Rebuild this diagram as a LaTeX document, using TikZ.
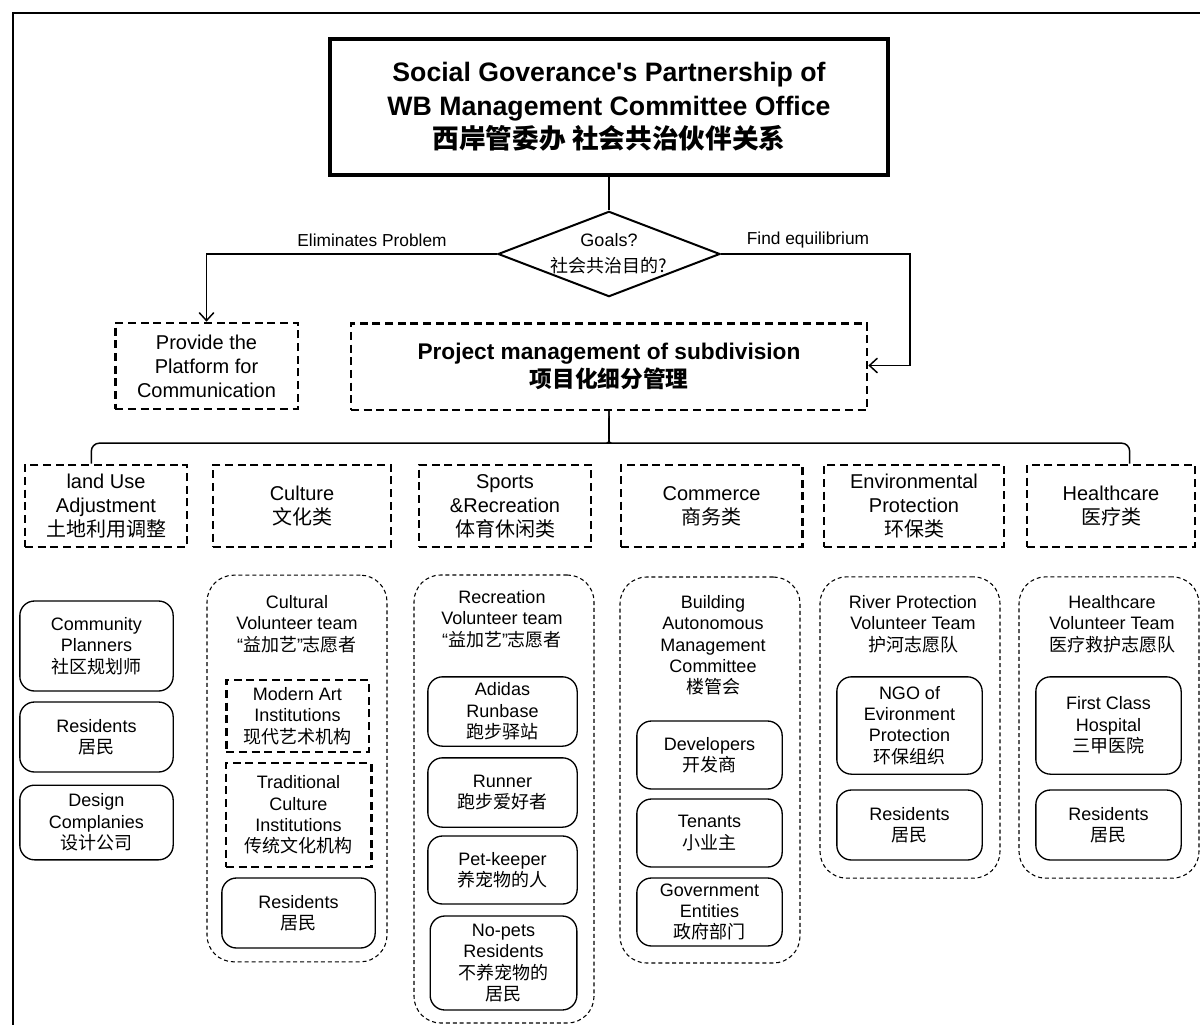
\documentclass[tikz,border=0pt]{standalone}
\usepackage{fontspec}
\setmainfont{Liberation Sans}[Ligatures=TeXOff]
\newfontfamily\cjk{Noto Sans CJK SC}
\usepackage{tikz}
\usetikzlibrary{shapes.geometric,arrows.meta,calc}
\tikzset{
  catbox/.style={draw,line width=2pt,dash pattern=on 6pt off 3.5pt,
    minimum height=61.5pt,align=center,inner sep=2pt,font=\fontsize{15}{18}\selectfont},
  rbox/.style={draw,line width=1pt,rounded corners=11pt,align=center,
    inner sep=2pt,font=\fontsize{13.5}{16}\selectfont},
  grpbox/.style={draw,line width=0.8pt,dash pattern=on 3pt off 2.2pt,
    rounded corners=20pt,minimum width=135pt},
  grphead/.style={align=center,font=\fontsize{13.5}{16}\selectfont}
}

\begin{document}
\begin{tikzpicture}[x=0.75pt,y=-0.75pt,
  link/.style={line width=1.1pt},
  arrow/.style={link,-{Straight Barb[length=6pt,width=11pt]}}
]
  \useasboundingbox (0,0) rectangle (1200,1025);
  \draw[line width=1.5pt] (13,1025) |- (1200,13);

  % top of the chart
  \node[draw,line width=3pt,minimum width=419pt,minimum height=102pt,align=center,
    font=\bfseries\fontsize{20}{25}\selectfont] (title) at (609,107)
    {Social Goverance's Partnership of\\WB Management Committee Office\\{\cjk\bfseries 西岸管委办 社会共治伙伴关系}};
  \node[diamond,draw,line width=1.5pt,minimum width=166.5pt,minimum height=64pt,inner sep=0pt] (goal) at (609,254) {};
  \node[align=center,font=\fontsize{13.5}{19.5}\selectfont] (goaltxt) at (goal.center) {Goals?\\{\cjk 社会共治目的?}};
  \node[font=\fontsize{13}{16}\selectfont] (elimlbl) at (372,240) {Eliminates Problem};
  \node[font=\fontsize{13}{16}\selectfont] (equilbl) at (808,240) {Find equilibrium};

  \node[catbox,minimum width=137pt,minimum height=64.5pt] (platform) at (206.5,366) {Provide the\\Platform for\\Communication};
  \node[catbox,minimum width=387pt,minimum height=65pt,font=\bfseries\fontsize{17}{21}\selectfont] (projmgmt) at (609,366.5)
    {Project management of subdivision\\{\cjk\bfseries 项目化细分管理}};
  \coordinate (eqturn) at (910,365.5);

  \draw[link] (title) -- (goal);
  \draw[arrow] (goal.west) -| (platform.north);
  \draw[arrow] (goal.east) -| (eqturn) -- (projmgmt.east |- eqturn);

  % categories
  \node[catbox,minimum width=121.5pt] (landuse)  at (106,506)   {land Use\\Adjustment\\{\cjk 土地利用调整}};
  \node[catbox,minimum width=133.5pt] (culture)  at (302,506)   {Culture\\{\cjk 文化类}};
  \node[catbox,minimum width=129pt]   (sports)   at (505,506)   {Sports\\\&Recreation\\{\cjk 体育休闲类}};
  \node[catbox,minimum width=136pt]   (commerce) at (711.5,506) {Commerce\\{\cjk 商务类}};
  \node[catbox,minimum width=135pt]   (environ)  at (914,506)   {Environmental\\Protection\\{\cjk 环保类}};
  \node[catbox,minimum width=126pt]   (health)   at (1111,506)  {Healthcare\\{\cjk 医疗类}};

  \draw[link,rounded corners=6pt] ([xshift=-11pt]landuse.north) |- ($(projmgmt.south)+(-6,32)$)
    .. controls ($(projmgmt.south)+(-1,32)$) and ($(projmgmt.south)+(0,28)$) .. (projmgmt.south);
  \draw[link,rounded corners=6pt] ([xshift=14pt]health.north) |- ($(projmgmt.south)+(6,32)$)
    .. controls ($(projmgmt.south)+(1,32)$) and ($(projmgmt.south)+(0,28)$) .. (projmgmt.south);

  % land use
  \node[rbox,minimum width=115pt,minimum height=67.5pt] (planner)  at (96.5,646)   {Community\\Planners\\{\cjk 社区规划师}};
  \node[rbox,minimum width=115pt,minimum height=52.5pt] (landres)  at (96.5,737)   {Residents\\{\cjk 居民}};
  \node[rbox,minimum width=115pt,minimum height=56pt]   (designco) at (96.5,822.5) {Design\\Complanies\\{\cjk 设计公司}};

  % culture
  \node[grpbox,minimum height=290pt] (culgrp) at (297,768.5) {};
  \node[grphead] (culhead) at (297,624) {Cultural\\Volunteer team\\“{\cjk 益加艺}”{\cjk 志愿者}};
  \node[catbox,minimum width=107pt,minimum height=54pt,font=\fontsize{13.5}{16}\selectfont] (modart) at (297.5,716)
    {Modern Art\\Institutions\\{\cjk 现代艺术机构}};
  \node[catbox,minimum width=109pt,minimum height=78pt,font=\fontsize{13.5}{16}\selectfont] (tradcul) at (298.5,815)
    {Traditional\\Culture\\Institutions\\{\cjk 传统文化机构}};
  \node[rbox,minimum width=115pt,minimum height=52.5pt] (culres) at (298.5,913) {Residents\\{\cjk 居民}};

  % sports
  \node[grpbox,minimum height=336pt] (spogrp) at (504,799) {};
  \node[grphead] (spohead) at (502,619) {Recreation\\Volunteer team\\“{\cjk 益加艺}”{\cjk 志愿者}};
  \node[rbox,minimum width=112pt,minimum height=52pt]   (runbase) at (502.5,711.5) {Adidas\\Runbase\\{\cjk 跑步驿站}};
  \node[rbox,minimum width=112pt,minimum height=52pt]   (runner)  at (502.5,792.5) {Runner\\{\cjk 跑步爱好者}};
  \node[rbox,minimum width=112pt,minimum height=51pt]   (petkeep) at (502.5,870)   {Pet-keeper\\{\cjk 养宠物的人}};
  \node[rbox,minimum width=110pt,minimum height=70.5pt] (nopets)  at (503.5,963)   {No-pets\\Residents\\{\cjk 不养宠物的}\\{\cjk 居民}};

  % commerce
  \node[grpbox,minimum height=289.5pt] (comgrp) at (710,770) {};
  \node[grphead] (comhead) at (713,645.5) {Building\\Autonomous\\Management\\Committee\\{\cjk 楼管会}};
  \node[rbox,minimum width=109pt,minimum height=51pt] (develop) at (709.5,755) {Developers\\{\cjk 开发商}};
  \node[rbox,minimum width=109pt,minimum height=51pt] (tenant)  at (709.5,833) {Tenants\\{\cjk 小业主}};
  \node[rbox,minimum width=109pt,minimum height=51pt] (govern)  at (709.5,912) {Government\\Entities\\{\cjk 政府部门}};

  % environment
  \node[grpbox,minimum height=226pt] (envgrp) at (910,727.5) {};
  \node[grphead] (envhead) at (913,624) {River Protection\\Volunteer Team\\{\cjk 护河志愿队}};
  \node[rbox,minimum width=109pt,minimum height=73pt]   (ngo)    at (909.5,725.5) {NGO of\\Evironment\\Protection\\{\cjk 环保组织}};
  \node[rbox,minimum width=109pt,minimum height=52.5pt] (envres) at (909.5,825)   {Residents\\{\cjk 居民}};

  % healthcare
  \node[grpbox,minimum height=226pt] (hltgrp) at (1109,727.5) {};
  \node[grphead] (hlthead) at (1112,624) {Healthcare\\Volunteer Team\\{\cjk 医疗救护志愿队}};
  \node[rbox,minimum width=109pt,minimum height=73pt]   (hospital) at (1108.5,725.5) {First Class\\Hospital\\{\cjk 三甲医院}};
  \node[rbox,minimum width=109pt,minimum height=52.5pt] (hltres)   at (1108.5,825)   {Residents\\{\cjk 居民}};
\end{tikzpicture}
\end{document}
